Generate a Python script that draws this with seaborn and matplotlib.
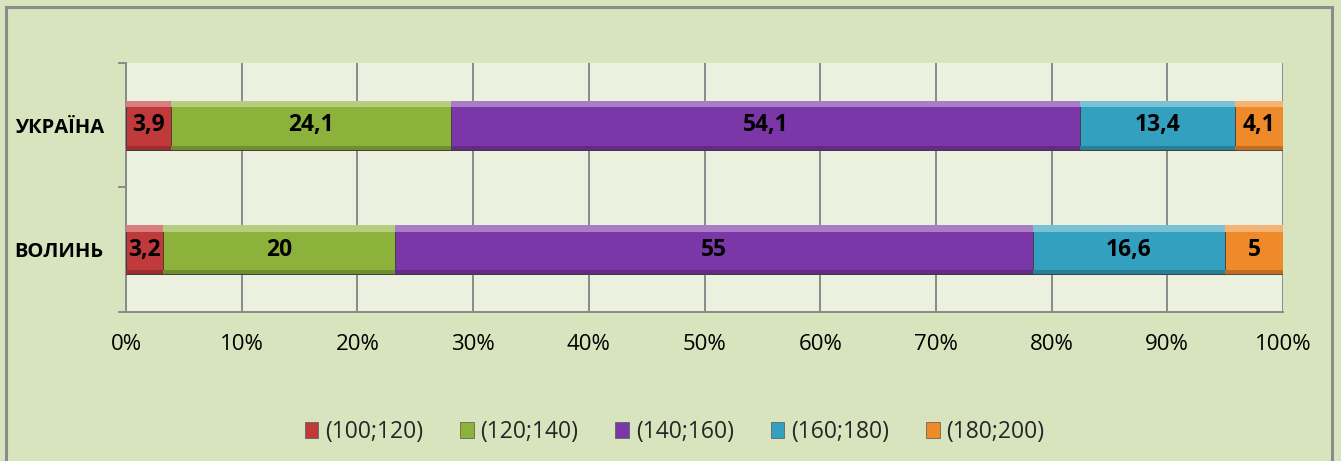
import numpy as np
import pandas as pd
import matplotlib
matplotlib.use("Agg")
import matplotlib.pyplot as plt
import seaborn as sns
from matplotlib.patches import Rectangle, Patch
from matplotlib.colors import to_rgb
from matplotlib.ticker import MultipleLocator, FixedLocator, PercentFormatter

# data
regions = ["УКРАЇНА", "ВОЛИНЬ"]
groups = ["(100;120)", "(120;140)", "(140;160)", "(160;180)", "(180;200)"]
ukraine = [3.9, 24.1, 54.1, 13.4, 4.1]
volyn = [3.2, 20, 55, 16.6, 5]
colors = ["#C0393B", "#8DB23B", "#7B37A8", "#32A0BE", "#EE8A2A"]

df = pd.DataFrame([ukraine, volyn], index=regions, columns=groups)
# Excel 100% stacked -> normalise each row
share = df.div(df.sum(axis=1), axis=0) * 100
cum = share.cumsum(axis=1)

sns.set_theme(style="white")
plt.rcParams["font.family"] = ["Open Sans", "DejaVu Sans"]

fig = plt.figure(figsize=(13.41, 4.61), dpi=100)
fig.patch.set_facecolor("#D7E4BD")
ax = fig.add_axes([126 / 1341, 1 - 312 / 461, (1283 - 126) / 1341, (312 - 63) / 461])
ax.set_facecolor("#EBF1DE")

# draw cumulative bars from the right end back so each segment sits on top
for i in range(len(groups) - 1, -1, -1):
    g = groups[i]
    sns.barplot(x=cum[g].values, y=regions, orient="h", color=colors[i],
                width=0.39, ax=ax, saturation=1, zorder=3,
                edgecolor="#3a3a3a", linewidth=0.6)

# light top edge and dark bottom edge on each segment (bevel look)
for i, g in enumerate(groups):
    left = (cum[g] - share[g]).values
    base = np.array(to_rgb(colors[i]))
    light = base + (1 - base) * 0.35
    dark = base * 0.8
    ax.barh(np.arange(len(regions)) - 0.39 / 2 + 0.025, share[g].values, height=0.05,
            left=left, color=light, zorder=4, linewidth=0)
    ax.barh(np.arange(len(regions)) + 0.39 / 2 - 0.015, share[g].values, height=0.03,
            left=left, color=dark, zorder=4, linewidth=0)

# value labels
for r_i, reg in enumerate(regions):
    for i, g in enumerate(groups):
        v = df.loc[reg, g]
        txt = ("%g" % v).replace(".", ",")
        xc = cum.loc[reg, g] - share.loc[reg, g] / 2
        ax.text(xc, r_i, txt, ha="center", va="center", fontsize=16.5,
                fontweight="bold", color="black", zorder=5)

ax.set_xlim(0, 100)
ax.set_ylim(1.5, -0.5)
ax.xaxis.set_major_locator(MultipleLocator(10))
ax.xaxis.set_major_formatter(PercentFormatter(decimals=0))
ax.grid(axis="x", color="#8A8A8A", linewidth=1.4, zorder=0)
ax.set_axisbelow(True)
ax.set_xlabel("")
ax.set_ylabel("")

for s in ["top", "right"]:
    ax.spines[s].set_visible(False)
for s in ["left", "bottom"]:
    ax.spines[s].set_color("#8A8A8A")
    ax.spines[s].set_linewidth(1.4)

ax.tick_params(axis="x", which="major", length=6, width=1.4, color="#8A8A8A",
               direction="out", labelsize=16, labelcolor="black", pad=10)
ax.yaxis.set_minor_locator(FixedLocator([-0.5, 0.5, 1.5]))
ax.tick_params(axis="y", which="major", length=0, labelsize=14.5, pad=16)
ax.tick_params(axis="y", which="minor", length=6, width=1.4, color="#8A8A8A",
               direction="out", left=True)
for lab in ax.get_yticklabels():
    lab.set_fontweight("bold")
    lab.set_color("black")

handles = [Patch(facecolor=c, edgecolor="#555555", linewidth=0.5) for c in colors]
fig.legend(handles, groups, loc="center", bbox_to_anchor=(0.503, 1 - 432 / 461),
           ncol=5, frameon=False, fontsize=16.5, handlelength=0.6,
           handleheight=0.75, handletextpad=0.3, columnspacing=1.6)

# outer chart frame
fig.patches.append(Rectangle((6 / 1341, -0.05), (1332 - 6) / 1341, 1.05 - 7 / 461,
                             transform=fig.transFigure, fill=False,
                             edgecolor="#8C8C8C", linewidth=2.2, zorder=10))

fig.savefig("out.png", dpi=100, facecolor=fig.get_facecolor())
